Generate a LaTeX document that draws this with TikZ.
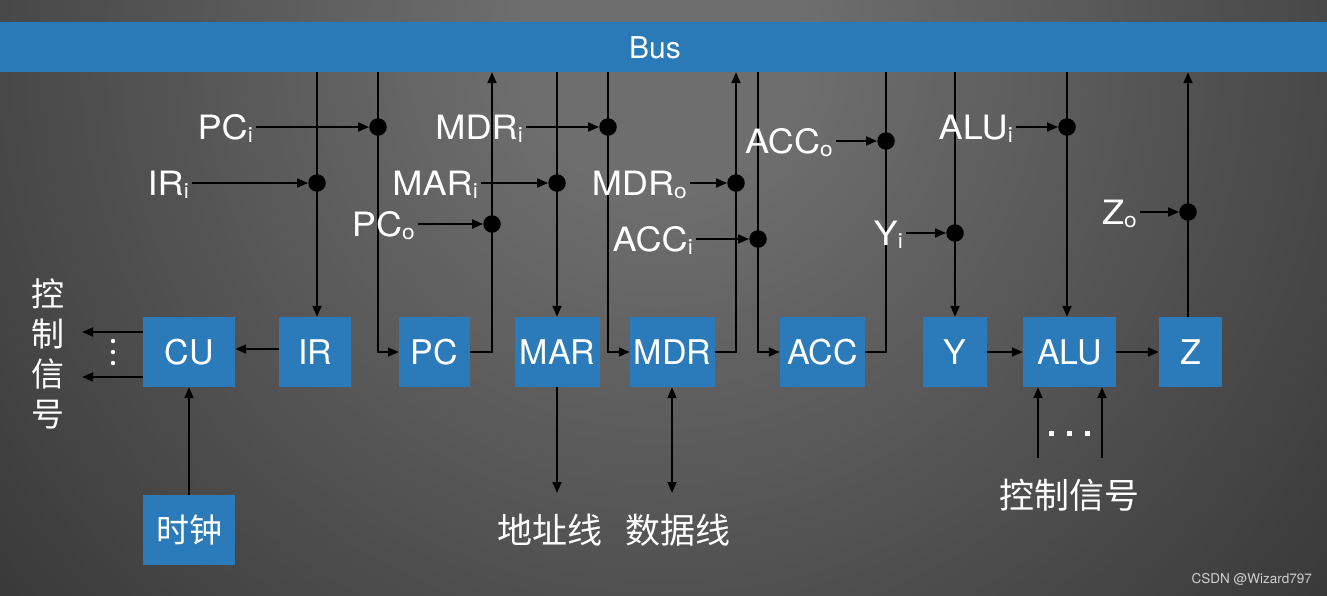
\documentclass[tikz,border=0pt]{standalone}
\usepackage{fontspec}
\setmainfont{TeX Gyre Heros}
\newfontfamily\sigfont[FakeStretch=1.08]{TeX Gyre Heros}
\newfontfamily\cjk{Noto Sans CJK SC}
\usetikzlibrary{arrows.meta}
\definecolor{busblue}{HTML}{2A7AB8}
\definecolor{boxblue}{HTML}{2B7BBA}
\definecolor{bgtop}{HTML}{6E6E6E}
\definecolor{bgbot}{HTML}{1E1E1E}
\pgfdeclareradialshading{bgshade}{\pgfpoint{0bp}{0bp}}{color(0bp)=(bgtop); color(5bp)=(bgtop); color(44bp)=(bgbot); color(50bp)=(bgbot)}
\pgfdeclarelayer{back}
\pgfdeclarelayer{wires}
\pgfsetlayers{back,wires,main}
\newcommand\sbs[1]{\raisebox{-3pt}{\fontsize{21}{21}\selectfont #1}}
\tikzset{
  box/.style={fill=boxblue, text=white, minimum height=70pt, inner sep=0pt, font=\fontsize{34}{34}\selectfont},
  dot/.style={circle, fill=black, minimum size=17.5pt, inner sep=0pt},
  sig/.style={text=white, font=\sigfont\fontsize{33.5}{33.5}\selectfont, inner sep=0pt, anchor=base east},
  wire/.style={line width=1.8pt, draw=black},
  arr/.style={wire, -{Triangle[length=11pt,width=9pt]}},
  darr/.style={wire, {Triangle[length=11pt,width=9pt]}-{Triangle[length=11pt,width=9pt]}},
  cjktext/.style={text=white, font=\cjk\fontsize{35}{35}\selectfont, inner sep=0pt},
  wdot/.style={fill=white, draw=none}
}
\begin{document}
\begin{tikzpicture}[x=1pt, y=-1pt]
\useasboundingbox (0,0) rectangle (1327,595);
\begin{pgfonlayer}{back}
  \clip (0,0) rectangle (1327,595);
  \shade[shading=bgshade] (-37,-650) rectangle (1363,750);
\end{pgfonlayer}

% bus
\node[fill=busblue, minimum width=1327pt, minimum height=50pt, inner sep=0pt] (bus) at (663.5,47) {};
\node[text=white, font=\fontsize{30}{30}\selectfont, inner sep=0pt] (busl) at (655,48) {Bus};

% boxes
\node[box, minimum width=92pt] (CU)  at (189,352) {CU};
\node[box, minimum width=72pt] (IR)  at (315,352) {IR};
\node[box, minimum width=71pt] (PC)  at (434.5,352) {PC};
\node[box, minimum width=85pt] (MAR) at (557.5,352) {MAR};
\node[box, minimum width=85pt] (MDR) at (672.5,352) {MDR};
\node[box, minimum width=85pt] (ACC) at (822.5,352) {ACC};
\node[box, minimum width=64pt] (Y)   at (955,352) {Y};
\node[box, minimum width=93pt] (ALU) at (1069.5,352) {ALU};
\node[box, minimum width=63pt] (Z)   at (1190.5,352) {Z};
\node[box, minimum width=92pt, font=\cjk\fontsize{33}{33}\selectfont] (clk) at (189,530) {时钟};

% dots
\node[dot] (dPCi)  at (378,127) {};
\node[dot] (dIRi)  at (317,183) {};
\node[dot] (dPCo)  at (492,224) {};
\node[dot] (dMDRi) at (608,127) {};
\node[dot] (dMARi) at (557,183) {};
\node[dot] (dMDRo) at (736,183) {};
\node[dot] (dACCi) at (758,239) {};
\node[dot] (dACCo) at (886,141) {};
\node[dot] (dALUi) at (1067,127) {};
\node[dot] (dYi)   at (955,233) {};
\node[dot] (dZo)   at (1188,212) {};

% signal labels
\node[sig] (lPCi)  at (253,139) {PC\sbs{i}};
\node[sig] (lIRi)  at (189,195) {IR\sbs{i}};
\node[sig] (lPCo)  at (415,236) {PC\sbs{o}};
\node[sig] (lMDRi) at (523,139) {MDR\sbs{i}};
\node[sig] (lMARi) at (478,195) {MAR\sbs{i}};
\node[sig] (lMDRo) at (687,195) {MDR\sbs{o}};
\node[sig] (lACCi) at (693,251) {ACC\sbs{i}};
\node[sig] (lACCo) at (833,153) {ACC\sbs{o}};
\node[sig] (lALUi) at (1013,139) {ALU\sbs{i}};
\node[sig] (lYi)   at (903,245) {Y\sbs{i}};
\node[sig] (lZo)   at (1137,224) {Z\sbs{o}};

% free ends
\coordinate (cuo1) at (82,332);
\coordinate (cuo2) at (82,377);
\coordinate (addr) at (557,493);
\coordinate (data) at (672,493);
\coordinate (alc1) at (1038,458);
\coordinate (alc2) at (1102,458);

% text
\node[cjktext, font=\cjk\fontsize{33}{40}\selectfont, align=center] (ctrlL) at (48,354) {控\\制\\信\\号};
\node[cjktext] (addrl) at (550,530) {地址线};
\node[cjktext] (datal) at (678,530) {数据线};
\node[cjktext] (ctrlR) at (1069,495) {控制信号};
\node[text=white!82!black, font=\fontsize{13.5}{13.5}\selectfont, anchor=east, inner sep=0pt] (wm) at (1312,579) {CSDN @Wizard797};

% small dots
\fill[wdot] (113,341) circle (2.2);
\fill[wdot] (113,352) circle (2.2);
\fill[wdot] (113,363) circle (2.2);
\fill[wdot] (1048.5,430.5) rectangle (1053.5,435.5);
\fill[wdot] (1066.5,430.5) rectangle (1071.5,435.5);
\fill[wdot] (1084.5,430.5) rectangle (1089.5,435.5);

\begin{pgfonlayer}{wires}
  % control signal arrows into dots
  \foreach \s in {PCi,IRi,PCo,MDRi,MARi,MDRo,ACCi,ACCo,ALUi,Yi,Zo}
    \draw[arr, shorten <=3pt] (l\s.east |- d\s) -- (d\s);
  % IR
  \draw[arr] (dIRi |- bus.south) -- (dIRi |- IR.north);
  \draw[arr] (IR.west |- 0,349) -- (CU.east |- 0,349);
  % PC
  \draw[arr] (dPCi |- bus.south) |- (PC.west);
  \draw[arr] (PC.east) -| (dPCo |- bus.south);
  % MAR
  \draw[arr] (dMARi |- bus.south) -- (dMARi |- MAR.north);
  \draw[arr] (dMARi |- MAR.south) -- (addr);
  % MDR
  \draw[arr] (dMDRi |- bus.south) |- (MDR.west);
  \draw[arr] (MDR.east) -| (dMDRo |- bus.south);
  \draw[darr] (data |- MDR.south) -- (data);
  % ACC
  \draw[arr] (dACCi |- bus.south) |- (ACC.west);
  \draw[wire] (ACC.east) -| (dACCo |- bus.south);
  % Y, ALU, Z
  \draw[arr] (dYi |- bus.south) -- (dYi |- Y.north);
  \draw[arr] (dALUi |- bus.south) -- (dALUi |- ALU.north);
  \draw[arr] (dZo |- Z.north) -- (dZo |- bus.south);
  \draw[arr] (Y.east) -- (ALU.west);
  \draw[arr] (ALU.east) -- (Z.west);
  \draw[arr] (alc1) -- (alc1 |- ALU.south);
  \draw[arr] (alc2) -- (alc2 |- ALU.south);
  % CU
  \draw[arr] (CU.west |- cuo1) -- (cuo1);
  \draw[arr] (CU.west |- cuo2) -- (cuo2);
  \draw[arr] (clk.north) -- (CU.south);
\end{pgfonlayer}
\end{tikzpicture}
\end{document}
